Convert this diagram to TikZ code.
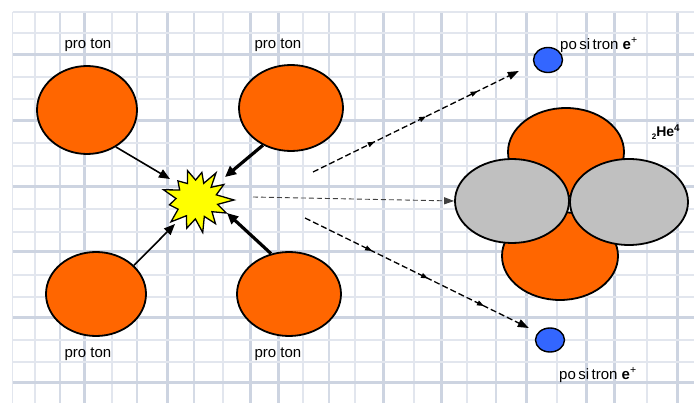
\documentclass[tikz,border=0pt]{standalone}
\usepackage{fontspec}
\setmainfont{Liberation Sans}
\usetikzlibrary{shapes.geometric,arrows.meta,decorations.markings,calc}
\definecolor{gridthin}{HTML}{E2E6EE}
\definecolor{gridmid}{HTML}{D5DBE6}
\definecolor{gridthick}{HTML}{CDD4E1}
\definecolor{protonorange}{HTML}{FF6600}
\definecolor{neutrongrey}{HTML}{C0C0C0}
\definecolor{positronblue}{HTML}{3366FF}
\definecolor{burstyellow}{HTML}{FFFF00}
\tikzset{
  particle/.style={ellipse, draw=black, line width=1.8pt, inner sep=0pt},
  proton/.style={particle, fill=protonorange},
  neutron/.style={particle, fill=neutrongrey},
  positron/.style={particle, fill=positronblue, line width=1.4pt},
  lbl/.style={font=\fontsize{15}{17}\selectfont, inner sep=0pt},
  hit/.style={-{Triangle[length=11pt,width=9pt]}, line width=1.6pt},
  hitthick/.style={-{Triangle[length=11pt,width=10pt]}, line width=3.2pt},
  emit/.style={dashed, dash pattern=on 6pt off 3pt, line width=1.3pt,
    -{Triangle[length=11pt,width=8pt]},
    postaction={decorate, decoration={markings,
      mark=at position 0.3 with {\arrow{Triangle[length=7pt,width=5pt]}},
      mark=at position 0.55 with {\arrow{Triangle[length=7pt,width=5pt]}},
      mark=at position 0.8 with {\arrow{Triangle[length=7pt,width=5pt]}}}}},
  emitthin/.style={dashed, dash pattern=on 5pt off 3pt, line width=0.9pt, draw=black!75,
    -{Triangle[length=10pt,width=7pt]}}
}
\begin{document}
\begin{tikzpicture}[x=1pt,y=-1pt]
\useasboundingbox (0,0) rectangle (694,403);
\fill[white] (0,0) rectangle (694,403);
% grid
\foreach \x in {12.7,35,112,223,303,355,414,467,557,647}
  \draw[gridthin, line width=1.3pt] (\x,12) -- (\x,403);
\foreach \x in {60,137,194,329,496}
  \draw[gridmid, line width=1.6pt] (\x,12) -- (\x,403);
\foreach \x in {84,167,250,278,383,441,526,586,614,677}
  \draw[gridthick, line width=3pt] (\x,12) -- (\x,403);
\foreach \y in {12,33,77,99,143,166,209,232,275,297,340,362}
  \draw[gridthin, line width=1.3pt] (12.7,\y) -- (694,\y);
\foreach \y in {55,121,187,252,318,383}
  \draw[gridthick, line width=3pt] (12.7,\y) -- (694,\y);

% protons
\node[proton, minimum width=100pt, minimum height=88pt] (p1) at (87,110) {};
\node[proton, minimum width=104pt, minimum height=86pt] (p2) at (291,108) {};
\node[proton, minimum width=100pt, minimum height=84pt] (p3) at (96,294) {};
\node[proton, minimum width=104pt, minimum height=84pt] (p4) at (289,294) {};

\node[lbl] (t1) at (88,45) {pro ton};
\node[lbl] (t2) at (278,45) {pro ton};
\node[lbl] (t3) at (88,354) {pro ton};
\node[lbl] (t4) at (278,354) {pro ton};

% burst
\coordinate (burst) at (197,200);
\begin{scope}[shift={(burst)}]
\draw[fill=burstyellow, line width=1.3pt, line join=miter]
  (0:37) -- (12:21) -- (24:32) -- (38:19) -- (52:30) -- (66:18) -- (80:33) -- (95:19)
  -- (110:30) -- (124:19) -- (140:34) -- (154:21) -- (170:28) -- (184:21) -- (197:35)
  -- (210:20) -- (225:27) -- (240:19) -- (252:31) -- (266:20) -- (280:28) -- (292:18)
  -- (305:33) -- (318:19) -- (330:31) -- (345:20) -- cycle;
\end{scope}

% incoming arrows
\draw[hit] (p1.-52) -- ($(burst)+(-27,-21)$);
\draw[hitthick] (p2.-127) -- ($(burst)+(28,-23)$);
\draw[hit] (p3.37) -- ($(burst)+(-22,24)$);
\draw[hitthick] (p4.114) -- ($(burst)+(30,13)$);

% helium
\node[proton, minimum width=116pt, minimum height=88pt] (o1) at (566,152) {};
\node[proton, minimum width=116pt, minimum height=88pt] (o2) at (560,256) {};
\node[neutron, minimum width=114pt, minimum height=84pt] (g1) at (512,201) {};
\node[neutron, minimum width=118pt, minimum height=86pt] (g2) at (629,202) {};
\node[lbl, font=\bfseries\fontsize{14}{16}\selectfont] (he) at (666,132) {\raisebox{-0.35ex}{\fontsize{8}{9}\selectfont 2}He\textsuperscript{4}};

% positrons
\node[positron, minimum width=29pt, minimum height=25pt] (e1) at (548,60) {};
\node[positron, minimum width=29pt, minimum height=24pt] (e2) at (550,340) {};
\node[lbl, anchor=west] (l1) at (560,45) {po\,si\,tron \textbf{e}\textsuperscript{+}};
\node[lbl, anchor=west] (l2) at (559,375) {po\,si\,tron \textbf{e}\textsuperscript{+}};

% outgoing arrows
\coordinate (s1) at (313,172);
\coordinate (s2) at (253,197);
\coordinate (s3) at (305,218);
\draw[emit] (s1) -- ($(e1.west)+(-14,11)$);
\draw[emitthin] (s2) -- (g1.west);
\draw[emit] (s3) -- ($(e2.west)+(-6,-12)$);
\end{tikzpicture}
\end{document}
